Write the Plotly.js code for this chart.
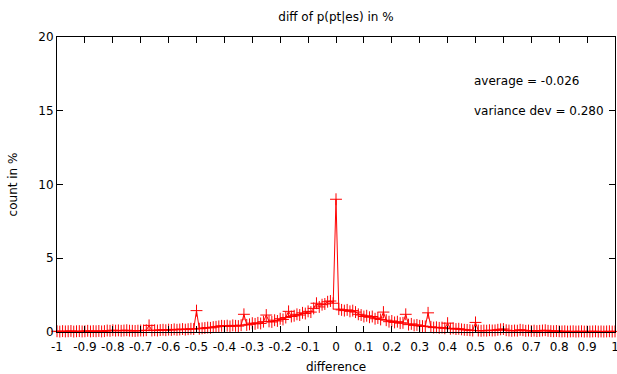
<!DOCTYPE html>
<html>
<head>
<meta charset="utf-8">
<script src="https://cdn.plot.ly/plotly-3.0.1.min.js"></script>
<style>html,body{margin:0;padding:0;background:#fff;}#chart{width:617px;height:374px;}</style>
</head>
<body>
<div id="chart"></div>
<script>
var diffs = [
-1.00,-0.99,-0.98,-0.97,-0.96,-0.95,-0.94,-0.93,-0.92,-0.91,
-0.90,-0.89,-0.88,-0.87,-0.86,-0.85,-0.84,-0.83,-0.82,-0.81,
-0.80,-0.79,-0.78,-0.77,-0.76,-0.75,-0.74,-0.73,-0.72,-0.71,
-0.70,-0.69,-0.68,-0.67,-0.66,-0.65,-0.64,-0.63,-0.62,-0.61,
-0.60,-0.59,-0.58,-0.57,-0.56,-0.55,-0.54,-0.53,-0.52,-0.51,
-0.50,-0.49,-0.48,-0.47,-0.46,-0.45,-0.44,-0.43,-0.42,-0.41,
-0.40,-0.39,-0.38,-0.37,-0.36,-0.35,-0.34,-0.33,-0.32,-0.31,
-0.30,-0.29,-0.28,-0.27,-0.26,-0.25,-0.24,-0.23,-0.22,-0.21,
-0.20,-0.19,-0.18,-0.17,-0.16,-0.15,-0.14,-0.13,-0.12,-0.11,
-0.10,-0.09,-0.08,-0.07,-0.06,-0.05,-0.04,-0.03,-0.02,-0.01,
0.00,
0.01,0.02,0.03,0.04,0.05,0.06,0.07,0.08,0.09,0.10,
0.11,0.12,0.13,0.14,0.15,0.16,0.17,0.18,0.19,0.20,
0.21,0.22,0.23,0.24,0.25,0.26,0.27,0.28,0.29,0.30,
0.31,0.32,0.33,0.34,0.35,0.36,0.37,0.38,0.39,0.40,
0.41,0.42,0.43,0.44,0.45,0.46,0.47,0.48,0.49,0.50,
0.51,0.52,0.53,0.54,0.55,0.56,0.57,0.58,0.59,0.60,
0.61,0.62,0.63,0.64,0.65,0.66,0.67,0.68,0.69,0.70,
0.71,0.72,0.73,0.74,0.75,0.76,0.77,0.78,0.79,0.80,
0.81,0.82,0.83,0.84,0.85,0.86,0.87,0.88,0.89,0.90,
0.91,0.92,0.93,0.94,0.95,0.96,0.97,0.98,0.99,1.00
];
var countPct = [
0.05,0.03,0.06,0.04,0.05,0.07,0.03,0.05,0.06,0.04,
0.05,0.08,0.04,0.06,0.05,0.07,0.04,0.06,0.10,0.08,
0.12,0.09,0.11,0.08,0.10,0.12,0.09,0.08,0.07,0.09,
0.10,0.10,0.12,0.45,0.10,0.12,0.10,0.13,0.15,0.12,
0.16,0.14,0.18,0.15,0.17,0.20,0.16,0.19,0.22,0.20,
1.45,0.22,0.25,0.27,0.30,0.28,0.33,0.35,0.38,0.42,
0.40,0.43,0.38,0.45,0.42,0.40,0.46,1.20,0.48,0.52,
0.60,0.55,0.62,0.58,0.70,1.15,0.72,0.68,0.80,0.75,
0.90,0.85,0.98,1.40,1.05,1.10,1.20,1.15,1.30,1.25,
1.40,1.35,1.60,1.95,1.70,1.85,1.90,2.05,2.10,1.95,
9.00,
1.55,1.50,1.45,1.50,1.40,1.45,1.35,1.20,1.15,1.05,
1.10,1.00,1.05,0.90,0.95,0.85,1.35,0.80,0.70,0.75,
0.65,0.70,0.60,0.62,1.20,0.50,0.55,0.45,0.48,0.42,
0.40,0.38,1.30,0.35,0.30,0.32,0.28,0.30,0.25,0.60,
0.22,0.25,0.20,0.22,0.18,0.15,0.14,0.12,0.10,0.65,
0.10,0.08,0.10,0.09,0.12,0.10,0.11,0.15,0.18,0.20,
0.12,0.10,0.08,0.10,0.09,0.15,0.12,0.08,0.10,0.07,
0.09,0.06,0.08,0.10,0.12,0.08,0.06,0.05,0.07,0.05,
0.04,0.05,0.03,0.04,0.05,0.03,0.04,0.05,0.03,0.04,
0.03,0.04,0.05,0.03,0.04,0.03,0.04,0.05,0.03,0.04
];
var xTickVals = [-1,-0.9,-0.8,-0.7,-0.6,-0.5,-0.4,-0.3,-0.2,-0.1,0,0.1,0.2,0.3,0.4,0.5,0.6,0.7,0.8,0.9,1];
var xTickText = ['-1','-0.9','-0.8','-0.7','-0.6','-0.5','-0.4','-0.3','-0.2','-0.1','0','0.1','0.2','0.3','0.4','0.5','0.6','0.7','0.8','0.9','1'];
var yTickVals = [0,5,10,15,20];
var statLabels = ['average = -0.026','variance dev = 0.280'];
var statY = [17,15];

var font = {family:'DejaVu Sans, sans-serif', size:12, color:'#000'};
var trace = {
  x: diffs, y: countPct, type:'scatter', mode:'lines+markers',
  line:{color:'#ff0000', width:1},
  marker:{symbol:'cross-thin-open', size:8.5, color:'#ff0000', line:{color:'#ff0000', width:1}},
  cliponaxis:false, showlegend:false, hoverinfo:'none'
};
var annotations = statLabels.map(function(t,i){
  return {text:t, xref:'paper', yref:'y', x:0.7435, y:statY[i], xanchor:'left', yanchor:'middle', showarrow:false, font:font};
});
var layout = {
  width:617, height:374,
  margin:{l:57, r:2, t:37, b:42, pad:0},
  paper_bgcolor:'#fff', plot_bgcolor:'#fff',
  font:font,
  title:{text:'diff of p(pt|es) in %', font:font, x:0.5445, xanchor:'center', y:0.955, yanchor:'middle'},
  xaxis:{range:[-1.000001,1.000001], tickvals:xTickVals, ticktext:xTickText, ticks:'inside', ticklen:6, tickcolor:'#000', tickwidth:1,
    showline:true, linecolor:'#000', linewidth:1, mirror:'ticks', showgrid:false, zeroline:false, ticklabelstandoff:4,
    ticklabeloverflow:'allow',
    title:{text:'difference', font:font, standoff:9}, tickfont:font},
  yaxis:{range:[0,20], tickvals:yTickVals, ticks:'inside', ticklen:6, tickcolor:'#000', tickwidth:1,
    showline:true, linecolor:'#000', linewidth:1, mirror:'ticks', showgrid:false, zeroline:false,
    title:{text:'count in %', font:font, standoff:18}, tickfont:font},
  annotations:annotations
};
Plotly.newPlot('chart',[trace],layout,{staticPlot:true, displayModeBar:false});
</script>
</body>
</html>
